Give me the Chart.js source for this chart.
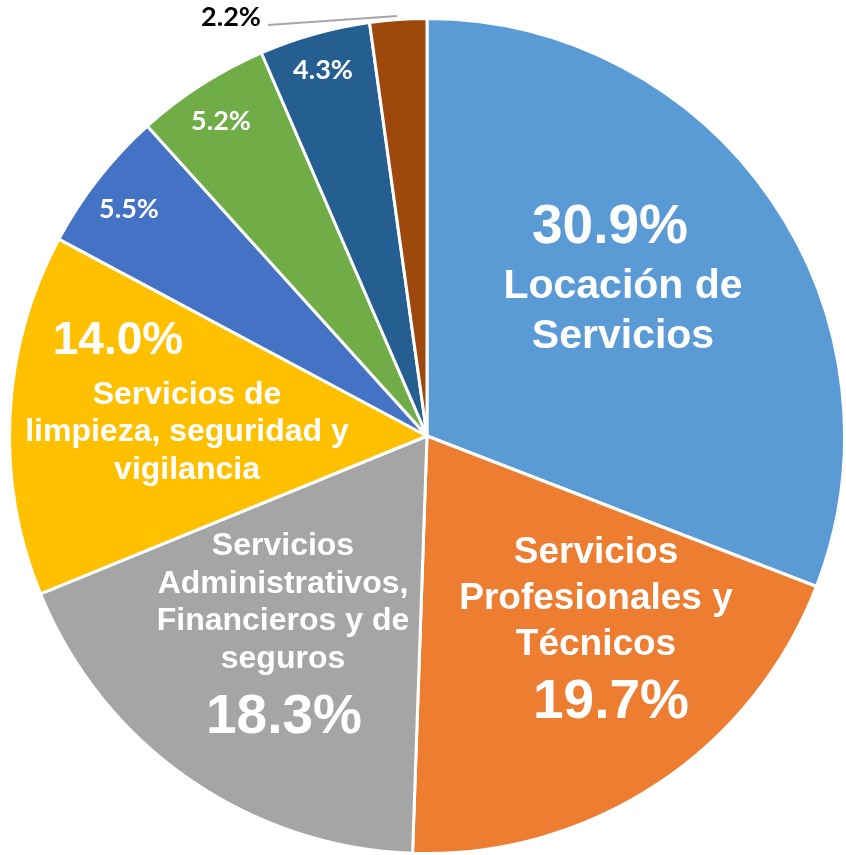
<!DOCTYPE html>
<html>
<head>
<meta charset="utf-8">
<script src="https://cdn.jsdelivr.net/npm/chart.js@4"></script>
<style>
  html, body { margin: 0; padding: 0; background: #fff; }
  #wrap { width: 846px; height: 855px; }
</style>
</head>
<body>
<div id="wrap"><canvas id="pie"></canvas></div>
<script>
const categories = [
  'Locación de Servicios',
  'Servicios Profesionales y Técnicos',
  'Servicios Administrativos, Financieros y de seguros',
  'Servicios de limpieza, seguridad y vigilancia',
  'Otros 1',
  'Otros 2',
  'Otros 3',
  'Otros 4'
];
const shares = [30.9, 19.7, 18.3, 14.0, 5.5, 5.2, 4.3, 2.2];
const colors = ['#5B9BD5', '#ED7D31', '#A5A5A5', '#FFC000', '#4472C4', '#70AD47', '#255E91', '#9E480E'];

// label text per slice: name lines + where the percentage goes
const nameLines = [
  ['Locación de', 'Servicios'],
  ['Servicios', 'Profesionales y', 'Técnicos'],
  ['Servicios', 'Administrativos,', 'Financieros y de', 'seguros'],
  ['Servicios de', 'limpieza, seguridad y', 'vigilancia'],
  [], [], [], []
];

// offsets from pie centre, font sizes
const labelSpec = [
  { pct: [183, -208, 55], name: [196, -149, 41, 50] },
  { pct: [184, 267, 55], name: [169, 117, 37, 46] },
  { pct: [-143, 282, 55], name: [-144, 110, 32, 37.7] },
  { pct: [-309, -95, 46], name: [-240, -41, 32, 37.5] },
  { small: [-298, -227] },
  { small: [-206, -315] },
  { small: [-104, -366] },
  { outside: [-196, -419], line: [[-159, -411], [-30, -420]] }
];

const labelPlugin = {
  id: 'sliceLabels',
  afterDatasetsDraw(chart) {
    const ctx = chart.ctx;
    const arc = chart.getDatasetMeta(0).data[0];
    const cx = arc.x, cy = arc.y;
    ctx.save();
    ctx.textAlign = 'center';
    ctx.textBaseline = 'middle';
    shares.forEach((v, i) => {
      const s = labelSpec[i];
      const txt = v.toFixed(1) + '%';
      if (s.pct) {
        ctx.fillStyle = '#fff';
        ctx.font = 'bold ' + s.pct[2] + 'px "Liberation Sans", Arial, sans-serif';
        ctx.fillText(txt, cx + s.pct[0], cy + s.pct[1]);
        ctx.font = 'bold ' + s.name[2] + 'px "Liberation Sans", Arial, sans-serif';
        nameLines[i].forEach((ln, k) => {
          ctx.fillText(ln, cx + s.name[0], cy + s.name[1] + k * s.name[3]);
        });
      } else if (s.small) {
        ctx.fillStyle = '#fff';
        ctx.font = 'bold 27px Lato, "Open Sans", sans-serif';
        ctx.fillText(txt, cx + s.small[0], cy + s.small[1]);
      } else if (s.outside) {
        ctx.strokeStyle = '#A6A6A6';
        ctx.lineWidth = 2;
        ctx.beginPath();
        ctx.moveTo(cx + s.line[0][0], cy + s.line[0][1]);
        ctx.lineTo(cx + s.line[1][0], cy + s.line[1][1]);
        ctx.stroke();
        ctx.fillStyle = '#000';
        ctx.font = 'bold 27px Lato, "Open Sans", sans-serif';
        ctx.fillText(txt, cx + s.outside[0], cy + s.outside[1]);
      }
    });
    ctx.restore();
  }
};

new Chart(document.getElementById('pie'), {
  type: 'pie',
  data: {
    labels: categories,
    datasets: [{
      data: shares,
      backgroundColor: colors,
      borderColor: '#fff',
      borderWidth: 3
    }]
  },
  options: {
    responsive: true,
    maintainAspectRatio: false,
    animation: false,
    layout: { padding: { left: 8, right: 0, top: 17, bottom: 0 } },
    plugins: {
      legend: { display: false },
      tooltip: { enabled: false }
    }
  },
  plugins: [labelPlugin]
});
</script>
</body>
</html>
